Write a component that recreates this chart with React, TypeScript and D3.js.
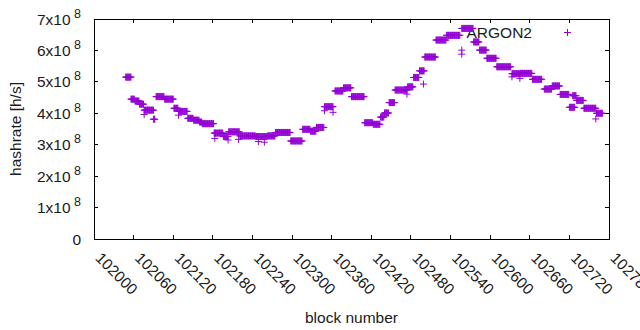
import React, { useEffect, useRef } from "react";
import * as d3 from "d3";

// hashrate is constant over runs of blocks (difficulty windows), so the data is kept as runs
const runFirst = [102048, 102056, 102062, 102069, 102076, 102090, 102094, 102107, 102121, 102128, 102142, 102151, 102160, 102164, 102182, 102196, 102204, 102221, 102245, 102263, 102275, 102298, 102316, 102328, 102337, 102349, 102365, 102378, 102390, 102410, 102423, 102434, 102440, 102447, 102456, 102475, 102484, 102493, 102501, 102518, 102534, 102557, 102575, 102584, 102595, 102610, 102633, 102646, 102664, 102682, 102694, 102706, 102720, 102725, 102731, 102742, 102761];
const runLast = [102056, 102061, 102068, 102075, 102090, 102092, 102106, 102120, 102127, 102141, 102150, 102159, 102163, 102181, 102195, 102203, 102220, 102244, 102262, 102274, 102297, 102315, 102327, 102336, 102348, 102362, 102377, 102389, 102409, 102422, 102433, 102439, 102446, 102455, 102474, 102483, 102492, 102500, 102517, 102533, 102554, 102574, 102583, 102594, 102609, 102631, 102645, 102663, 102678, 102693, 102705, 102719, 102728, 102730, 102741, 102760, 102770];
const runHashrate = [5.15e8, 4.45e8, 4.39e8, 4.29e8, 4.10e8, 3.81e8, 4.53e8, 4.45e8, 4.16e8, 4.06e8, 3.84e8, 3.78e8, 3.72e8, 3.67e8, 3.37e8, 3.26e8, 3.41e8, 3.28e8, 3.26e8, 3.28e8, 3.39e8, 3.12e8, 3.49e8, 3.43e8, 3.55e8, 4.21e8, 4.71e8, 4.81e8, 4.53e8, 3.70e8, 3.65e8, 3.88e8, 4.01e8, 4.34e8, 4.74e8, 4.84e8, 5.14e8, 5.35e8, 5.79e8, 6.33e8, 6.48e8, 6.70e8, 6.27e8, 6.01e8, 5.75e8, 5.48e8, 5.26e8, 5.27e8, 5.08e8, 4.77e8, 4.87e8, 4.60e8, 4.19e8, 4.56e8, 4.41e8, 4.16e8, 4.00e8];

// single blocks off their run
const outlierBlock = [102076, 102128, 102183, 102203, 102219, 102249, 102258, 102349, 102362, 102474, 102499, 102557, 102557, 102633, 102645, 102760];
const outlierHashrate = [3.96e8, 3.94e8, 3.20e8, 3.15e8, 3.17e8, 3.10e8, 3.08e8, 4.08e8, 4.03e8, 4.61e8, 4.93e8, 6.01e8, 5.88e8, 5.16e8, 5.11e8, 3.82e8];

const xTicks = [102000, 102060, 102120, 102180, 102240, 102300, 102360, 102420, 102480, 102540, 102600, 102660, 102720, 102780];
const yTicks = [0, 1e8, 2e8, 3e8, 4e8, 5e8, 6e8, 7e8];

const seriesName = "ARGON2";
const color = "#9400d3";
const font = "'Liberation Sans', Arial, sans-serif";

const W = 640, H = 330;
const left = 94, right = 609, top = 19, bottom = 239;

export default function App() {
  const ref = useRef<SVGSVGElement>(null);

  useEffect(() => {
    const svg = d3.select(ref.current);
    svg.selectAll("*").remove();

    const x = d3.scaleLinear().domain([102000, 102780]).range([left, right]);
    const y = d3.scaleLinear().domain([0, 7e8]).range([bottom, top]);

    let data: [number, number][] = [];
    runFirst.forEach((f, i) => {
      for (let b = f; b <= runLast[i]; b++) data.push([b, runHashrate[i]]);
    });
    outlierBlock.forEach((b, i) => data.push([b, outlierHashrate[i]]));

    const s = 3.5;
    const plus = (px: number, py: number) =>
      `M${px - s},${py}h${2 * s}M${px},${py - s}v${2 * s}`;

    svg.append("rect").attr("width", W).attr("height", H).attr("fill", "white");

    // border + inward ticks on all sides
    const ax = svg.append("g").attr("stroke", "black").attr("stroke-width", 1)
      .attr("shape-rendering", "crispEdges").attr("fill", "none");
    const tl = 4;
    yTicks.forEach(t => {
      ax.append("line").attr("x1", left).attr("x2", left + tl).attr("y1", y(t)).attr("y2", y(t));
      ax.append("line").attr("x1", right).attr("x2", right - tl).attr("y1", y(t)).attr("y2", y(t));
    });
    xTicks.forEach(t => {
      ax.append("line").attr("x1", x(t)).attr("x2", x(t)).attr("y1", bottom).attr("y2", bottom - tl);
      ax.append("line").attr("x1", x(t)).attr("x2", x(t)).attr("y1", top).attr("y2", top + tl);
    });
    ax.append("rect").attr("x", left).attr("y", top).attr("width", right - left).attr("height", bottom - top);

    const txt = svg.append("g").attr("font-family", font).attr("font-size", 15.5).attr("fill", "#1a1a1a");

    yTicks.forEach(t => {
      const el = txt.append("text").attr("x", 81).attr("y", y(t) + 5.5).attr("text-anchor", "end");
      if (t === 0) { el.text("0"); return; }
      el.append("tspan").text(`${t / 1e8}x10`);
      el.append("tspan").attr("dy", -7).attr("font-size", 12.5).text("\u00a08");
    });

    xTicks.forEach(t => {
      txt.append("text")
        .attr("transform", `translate(${x(t) + 0.5},259) rotate(45)`)
        .text(String(t));
    });

    txt.append("text").attr("transform", `translate(21,${(top + bottom) / 2}) rotate(-90)`)
      .attr("text-anchor", "middle").text("hashrate [h/s]");
    txt.append("text").attr("x", (left + right) / 2).attr("y", 323)
      .attr("text-anchor", "middle").text("block number");

    // points
    svg.append("path")
      .attr("d", data.map(d => plus(x(d[0]), y(d[1]))).join(""))
      .attr("fill", "none").attr("stroke", color).attr("stroke-width", 1);

    // legend
    txt.append("text").attr("x", 532).attr("y", 37.5).attr("text-anchor", "end").text(seriesName);
    svg.append("path").attr("d", plus(567.5, 32.5)).attr("stroke", color).attr("fill", "none");
  }, []);

  return (
    <svg ref={ref} width={W} height={H}
      style={{ position: "absolute", left: 0, top: 0, display: "block" }} />
  );
}
